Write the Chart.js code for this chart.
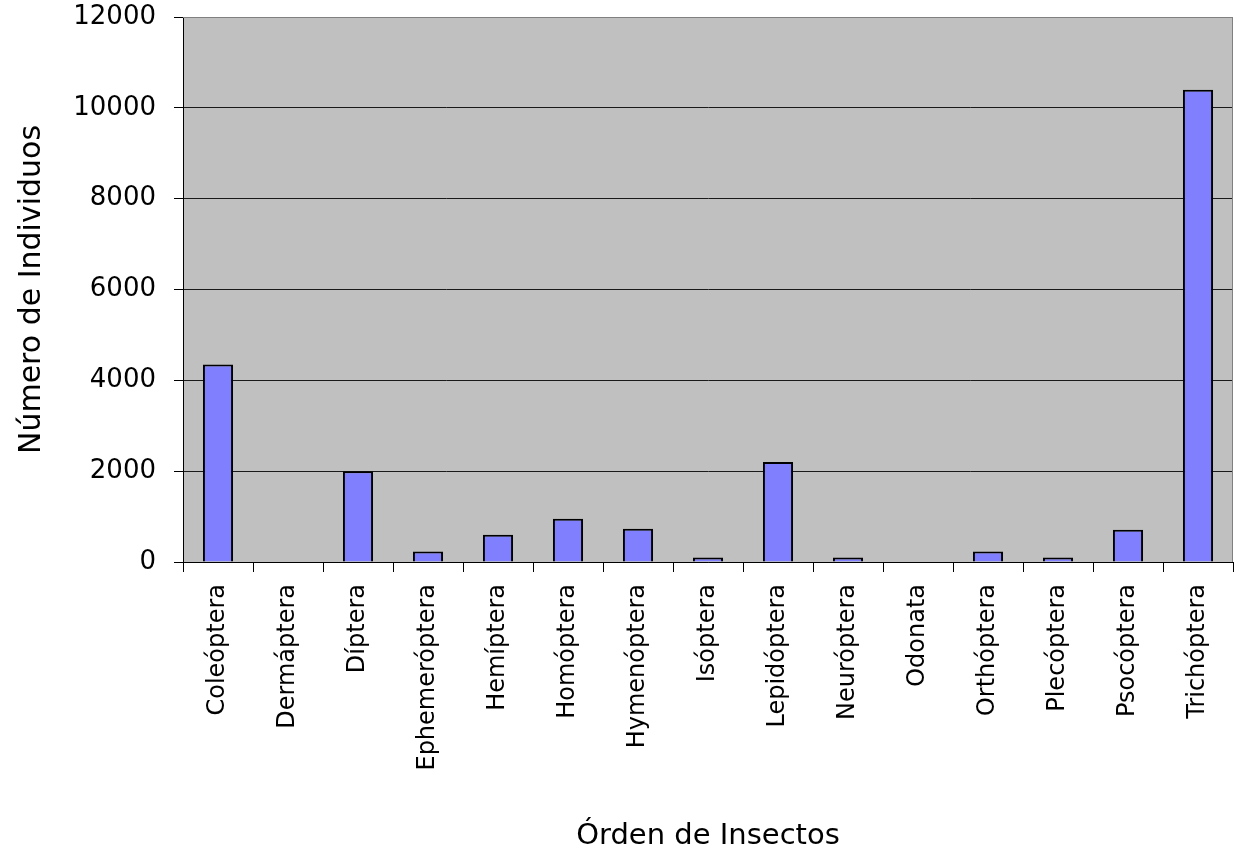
<!DOCTYPE html>
<html>
<head>
<meta charset="utf-8">
<title>Órden de Insectos</title>
<script src="https://cdn.jsdelivr.net/npm/chart.js@4/dist/chart.umd.min.js"></script>
<style>
  body { margin: 0; background: #fff; }
  canvas { display: block; }
</style>
</head>
<body>
<canvas id="chart" width="1243" height="854"></canvas>
<script>
// data
const categories = ['Coleóptera', 'Dermáptera', 'Díptera', 'Ephemeróptera', 'Hemíptera',
  'Homóptera', 'Hymenóptera', 'Isóptera', 'Lepidóptera', 'Neuróptera',
  'Odonata', 'Orthóptera', 'Plecóptera', 'Psocóptera', 'Trichóptera'];
const individuos = [4350, 0, 2000, 230, 600, 950, 730, 100, 2200, 100, 0, 230, 100, 710, 10400];
const yTicks = [0, 2000, 4000, 6000, 8000, 10000, 12000];

const FONT = "'Comic Sans MS', 'DejaVu Sans', sans-serif";

// grey plot area + grey frame on top/right like the old spreadsheet chart
const plotBackground = {
  id: 'plotBackground',
  beforeDraw(chart) {
    const { ctx, chartArea: a } = chart;
    ctx.save();
    ctx.fillStyle = '#c0c0c0';
    ctx.fillRect(a.left, a.top, a.right - a.left, a.bottom - a.top);
    ctx.restore();
  },
  afterDatasetsDraw(chart) {
    const { ctx, chartArea: a } = chart;
    ctx.save();
    ctx.strokeStyle = '#808080';
    ctx.lineWidth = 1;
    ctx.beginPath();
    ctx.moveTo(a.left, a.top + 0.5);
    ctx.lineTo(a.right - 0.5, a.top + 0.5);
    ctx.lineTo(a.right - 0.5, a.bottom);
    ctx.stroke();
    ctx.restore();
  }
};

new Chart(document.getElementById('chart').getContext('2d'), {
  type: 'bar',
  data: {
    labels: categories,
    datasets: [{
      label: 'Número de Individuos',
      data: individuos,
      backgroundColor: '#8080ff',
      borderColor: '#000000',
      borderWidth: 2,
      borderSkipped: 'bottom',
      barPercentage: 0.43,
      categoryPercentage: 1
    }]
  },
  options: {
    responsive: false,
    animation: false,
    layout: { padding: { top: 17, right: 10, left: 0, bottom: 0 } },
    plugins: {
      legend: { display: false },
      tooltip: { enabled: false }
    },
    scales: {
      x: {
        afterFit: (scale) => { scale.height = 292; },
        grid: {
          drawOnChartArea: false,
          drawTicks: true,
          tickLength: 10,
          color: '#000000'
        },
        border: { display: true, color: '#000000', width: 1 },
        ticks: {
          minRotation: 90,
          maxRotation: 90,
          padding: 12,
          color: '#000000',
          font: { family: FONT, size: 24 }
        },
        title: {
          display: true,
          text: 'Órden de Insectos',
          color: '#000000',
          font: { family: FONT, size: 29 },
          padding: { top: 30, bottom: 0 }
        }
      },
      y: {
        min: yTicks[0],
        max: yTicks[yTicks.length - 1],
        afterFit: (scale) => {
          scale.width = 183;
          scale.paddingTop = 0;
          scale.paddingBottom = 0;
        },
        afterBuildTicks: (scale) => { scale.ticks = yTicks.map(v => ({ value: v })); },
        grid: {
          color: (ctx) => (ctx.tick && ctx.tick.value === 12000 ? '#808080' : '#1a1a1a'),
          lineWidth: 1,
          tickLength: 9,
          tickColor: '#000000'
        },
        border: { display: true, color: '#000000', width: 1 },
        ticks: {
          padding: 18,
          color: '#000000',
          font: { family: FONT, size: 26 },
          callback: (v) => String(v)
        },
        title: {
          display: true,
          text: 'Número de Individuos',
          color: '#000000',
          font: { family: FONT, size: 30 },
          padding: { top: 14, bottom: 0 }
        }
      }
    }
  },
  plugins: [plotBackground]
});
</script>
</body>
</html>
